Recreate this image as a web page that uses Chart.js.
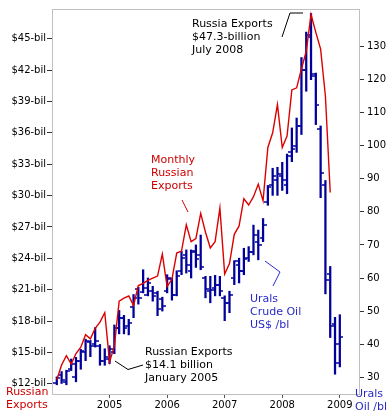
<!DOCTYPE html>
<html><head><meta charset="utf-8">
<script src="https://cdn.jsdelivr.net/npm/chart.js@4"></script>
<style>html,body{margin:0;padding:0;background:#fff;overflow:hidden}</style>
</head><body>
<canvas id="c" width="392" height="414" style="width:392px;height:414px"></canvas>
<script>
// ---- categories: monthly, Jan 2004 .. May 2009 ----
const years = [2004, 2005, 2006, 2007, 2008, 2009];
const monthNums = ['01','02','03','04','05','06','07','08','09','10','11','12'];
const months = [];
years.forEach(y => monthNums.forEach(m => { if (months.length < 65) months.push(y + '-' + m); }));

// ---- tick labels ----
const yearTickLabels = ['2005', '2006', '2007', '2008', '2009'];
const exportTickValues = [12, 15, 18, 21, 24, 27, 30, 33, 36, 39, 42, 45];
const exportTickLabels = ['$12-bil', '$15-bil', '$18-bil', '$21-bil', '$24-bil', '$27-bil', '$30-bil', '$33-bil', '$36-bil', '$39-bil', '$42-bil', '$45-bil'];
const oilTickValues = [30, 40, 50, 60, 70, 80, 90, 100, 110, 120, 130];

// ---- Monthly Russian exports, $ billion ----
const exportsBil = [null,
  12.4, 13.8, 14.7, 13.9, 14.9, 15.5, 16.7, 16.3, 17.3, 17.9, 18.8,
  14.1, 15.6, 19.9, 20.2, 20.4, 19.5, 21.4, 21.6, 21.9, 22.1, 22.3, 24.4,
  21.3, 22.0, 24.5, 24.7, 27.2, 25.6, 25.9, 28.3, 26.5, 25.0, 25.6, 28.8,
  22.5, 23.5, 26.3, 27.1, 29.7, 29.1, 29.9, 31.1, 29.5, 34.6, 36.0, 38.7,
  34.6, 35.7, 40.1, 40.3, 42.1, 43.8, 47.3, 45.6, 44.0, 39.5, 30.3, null,
  null, null, null, null, null];

// ---- Urals crude oil, US$/bl (monthly open / high / low / close) ----
const oilHigh = [null,
  30.1, 31.7, 32.1, 35.5, 36.0, 38.4, 41.5, 41.1, 45.0, 39.9, 38.6,
  39.5, 45.8, 50.2, 48.7, 47.5, 55.0, 57.2, 62.5, 60.0, 57.5, 56.0, 54.2,
  61.0, 60.0, 62.2, 68.0, 68.5, 68.5, 70.0, 73.0, 60.5, 60.5, 60.8, 60.5,
  54.6, 56.0, 65.2, 66.0, 69.0, 69.5, 76.0, 74.5, 78.0, 88.0, 93.2, 93.5,
  95.0, 97.5, 105.4, 108.4, 126.7, 134.4, 140.0, 122.0, 106.0, 89.5, 63.5, 48.1,
  48.9, null, null, null, null];
const oilLow = [null,
  27.7, 28.1, 27.7, 32.0, 28.6, 32.4, 35.0, 36.2, 39.1, 33.6, 33.6,
  34.1, 37.1, 43.1, 43.1, 42.8, 48.0, 52.1, 55.5, 54.6, 53.0, 48.6, 50.0,
  55.5, 53.3, 54.6, 61.0, 61.5, 60.0, 63.2, 62.5, 54.0, 52.5, 54.6, 54.6,
  47.1, 49.5, 58.0, 58.5, 61.0, 65.0, 67.0, 65.5, 71.0, 82.0, 85.0, 85.0,
  86.5, 85.5, 95.2, 98.0, 103.4, 116.5, 120.0, 106.4, 84.3, 55.2, 42.0, 30.9,
  33.1, null, null, null, null];
const oilOpen = [null,
  28.2, 30.8, 28.6, 32.5, 30.1, 35.0, 37.5, 40.5, 40.0, 39.5, 35.0,
  35.5, 37.5, 45.0, 48.0, 45.6, 51.3, 56.8, 55.8, 55.0, 56.0, 55.5, 53.8,
  56.0, 59.8, 55.0, 62.0, 67.0, 62.0, 68.0, 67.0, 60.0, 56.0, 57.0, 58.0,
  54.0, 52.5, 60.0, 64.0, 62.0, 66.0, 68.0, 71.0, 72.0, 83.0, 88.0, 89.5,
  91.0, 88.0, 98.0, 100.0, 106.0, 123.0, 133.0, 121.0, 105.0, 88.0, 61.2, 46.0,
  39.9, null, null, null, null];
const oilClose = [null,
  29.8, 29.1, 31.8, 34.0, 35.0, 37.8, 40.8, 39.5, 41.0, 35.0, 36.0,
  38.5, 45.0, 48.0, 45.0, 46.3, 54.0, 54.0, 57.0, 58.5, 54.5, 50.5, 51.5,
  60.0, 55.0, 60.5, 66.2, 64.0, 68.2, 65.8, 63.2, 56.6, 56.5, 58.0, 56.0,
  52.5, 55.0, 65.2, 62.0, 65.8, 68.0, 73.0, 70.0, 76.0, 87.5, 91.0, 91.5,
  89.5, 97.0, 99.0, 106.1, 122.9, 133.4, 121.7, 112.4, 91.7, 59.3, 45.6, 34.4,
  42.3, null, null, null, null];

// ---- annotations ----
const notes = [
  {lines: ['Russia Exports', '$47.3-billion', 'July 2008'], x: 192, y: 24, color: '#000000'},
  {lines: ['Monthly', 'Russian', 'Exports'], x: 151, y: 160, color: '#cc0000'},
  {lines: ['Urals', 'Crude Oil', 'US$ /bl'], x: 250, y: 299, color: '#2a2ac8'},
  {lines: ['Russian Exports', '$14.1 billion', 'January 2005'], x: 145, y: 352, color: '#000000'},
  {lines: ['Russian', 'Exports'], x: 6, y: 392, color: '#cc0000'},
  {lines: ['Urals', 'Oil /bl'], x: 355, y: 394, color: '#2a2ac8'}
];
const pointers = [
  {pts: [[282, 37], [290, 13], [303, 13]], color: '#000000'},
  {pts: [[182, 200], [188, 212]], color: '#cc0000'},
  {pts: [[265, 261], [280, 272], [273, 286]], color: '#2a2ac8'},
  {pts: [[115, 361], [128, 369.5], [143, 365]], color: '#000000'}
];

const BLUE = '#00009c';
function tickImg(side) {
  const c = document.createElement('canvas');
  c.width = 7; c.height = 2;
  const g = c.getContext('2d');
  g.fillStyle = BLUE;
  g.fillRect(side === 'left' ? 0 : 3.5, 0.25, 3.5, 1.5);
  return c;
}

const overlay = {
  id: 'overlay',
  afterDraw(chart) {
    const {ctx, chartArea: a} = chart;
    ctx.save();
    ctx.strokeStyle = '#c0c0c0';
    ctx.lineWidth = 1;
    ctx.beginPath();
    ctx.moveTo(a.left, a.top + 0.5);
    ctx.lineTo(a.right, a.top + 0.5);
    ctx.stroke();
    ctx.font = '11px "DejaVu Sans"';
    ctx.textBaseline = 'middle';
    ctx.textAlign = 'left';
    notes.forEach(n => {
      ctx.fillStyle = n.color;
      n.lines.forEach((t, k) => ctx.fillText(t, n.x, n.y + k * 13));
    });
    ctx.lineWidth = 1;
    pointers.forEach(p => {
      ctx.strokeStyle = p.color;
      ctx.beginPath();
      p.pts.forEach(([x, y], k) => k ? ctx.lineTo(x, y) : ctx.moveTo(x, y));
      ctx.stroke();
    });
    ctx.restore();
  }
};

Chart.defaults.font.family = '"DejaVu Sans", Verdana, sans-serif';
Chart.defaults.font.size = 10;

new Chart(document.getElementById('c'), {
  type: 'bar',
  data: {
    labels: months,
    datasets: [
      {type: 'line', label: 'Monthly Russian Exports', data: exportsBil, yAxisID: 'y',
       borderColor: '#dd0000', borderWidth: 1.4, pointRadius: 0, tension: 0, order: 0},
      {type: 'bar', label: 'Urals high-low', yAxisID: 'y1',
       data: oilHigh.map((h, i) => h == null ? null : [oilLow[i], h]),
       backgroundColor: BLUE, barThickness: 1.6, order: 2},
      {type: 'line', label: 'Urals open', data: oilOpen, yAxisID: 'y1', showLine: false,
       pointStyle: tickImg('left'), pointRadius: 3, order: 1},
      {type: 'line', label: 'Urals close', data: oilClose, yAxisID: 'y1', showLine: false,
       pointStyle: tickImg('right'), pointRadius: 3, order: 1}
    ]
  },
  options: {
    responsive: false,
    animation: false,
    events: [],
    devicePixelRatio: 1,
    layout: {padding: {top: 5, left: 0, right: 0, bottom: 0}},
    plugins: {legend: {display: false}, tooltip: {enabled: false}},
    scales: {
      x: {
        type: 'category', offset: false,
        grid: {drawOnChartArea: false, drawTicks: true, tickLength: 4, tickColor: '#555', offset: false},
        border: {color: '#c0c0c0'},
        ticks: {autoSkip: false, maxRotation: 0, color: '#000', padding: 1,
          callback: v => months[v].slice(0, 4)},
        afterBuildTicks: s => {
          s.ticks = s.ticks.filter(t => months[t.value].endsWith('-01') && yearTickLabels.includes(months[t.value].slice(0, 4)));
        },
        afterFit: s => { s.height = 20; }
      },
      y: {
        type: 'linear', position: 'left', min: 11.03, max: 47.84, bounds: 'data',
        grid: {drawOnChartArea: false, drawTicks: true, tickLength: 5, tickColor: '#333'},
        border: {color: '#c0c0c0'},
        ticks: {color: '#000', padding: 1,
          callback: v => exportTickLabels[exportTickValues.indexOf(v)]},
        afterBuildTicks: s => { s.ticks = exportTickValues.map(v => ({value: v})); },
        afterFit: s => { s.width = 52; }
      },
      y1: {
        type: 'linear', position: 'right', min: 24.91, max: 141.38, bounds: 'data',
        grid: {drawOnChartArea: false, drawTicks: true, tickLength: 5, tickColor: '#333'},
        border: {color: '#c0c0c0'},
        ticks: {color: '#000', padding: 3, callback: v => String(v)},
        afterBuildTicks: s => { s.ticks = oilTickValues.map(v => ({value: v})); },
        afterFit: s => { s.width = 33; }
      }
    }
  },
  plugins: [overlay]
});
</script>
</body></html>
